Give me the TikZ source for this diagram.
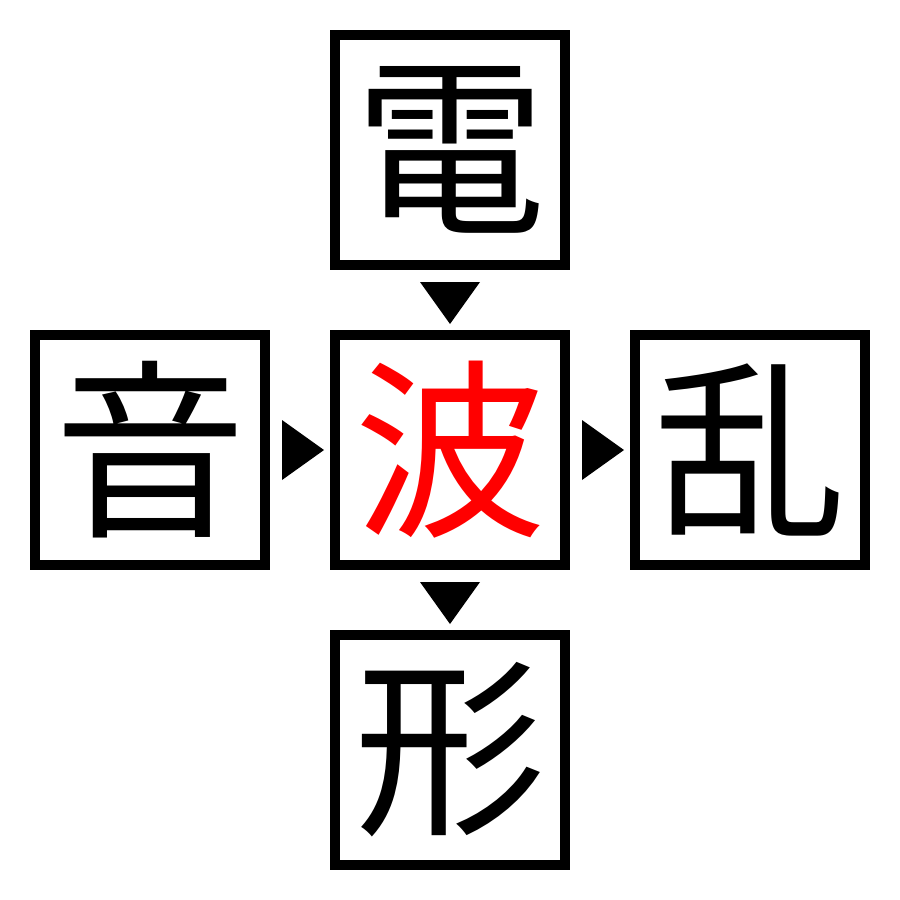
\documentclass[tikz,border=0pt]{standalone}
\usepackage{fontspec}
\usepackage{xcolor}
\newfontfamily\cjk{Noto Sans CJK JP}
\usetikzlibrary{positioning}
\tikzset{
	kanjibox/.style={draw, line width=10pt, minimum size=230pt, inner sep=0pt, font=\cjk\fontsize{192}{192}\selectfont},
	marker/.style={fill=black}
}

\begin{document}
\begin{tikzpicture}[x=1pt,y=1pt,yscale=-1,xscale=1]
	\useasboundingbox (0,0) rectangle (900,900);

	\node [kanjibox] (mid) at (450,450) {\textcolor{red}{波}};
	\node [kanjibox, above=60pt of mid] (top) {電};
	\node [kanjibox, left=60pt of mid] (lft) {音};
	\node [kanjibox, right=60pt of mid] (rgt) {乱};
	\node [kanjibox, below=60pt of mid] (bot) {形};

	%down markers
	\fill [marker] (420,282) -- (480,282) -- (450,324) -- cycle;
	\fill [marker] (420,582) -- (480,582) -- (450,624) -- cycle;
	%right markers
	\fill [marker] (282,420) -- (282,480) -- (324,450) -- cycle;
	\fill [marker] (582,420) -- (582,480) -- (624,450) -- cycle;
\end{tikzpicture}
\end{document}
